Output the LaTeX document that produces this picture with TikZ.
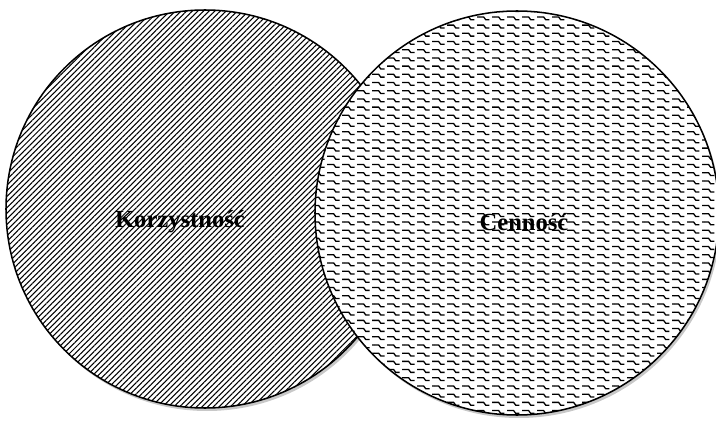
\documentclass[tikz,border=0pt]{standalone}
\usepackage{fontspec}
\setmainfont{Liberation Serif}
\usepackage{tikz}
\usetikzlibrary{patterns,patterns.meta,calc}
\definecolor{ombre}{RGB}{200,200,200}

% motif de vagues pour Cenność
\pgfdeclarepatternformonly{vagues}{\pgfqpoint{-1pt}{-1pt}}{\pgfqpoint{14pt}{8pt}}{\pgfqpoint{12.8pt}{7pt}}{%
  \pgfsetlinewidth{1.1pt}
  \pgfpathmoveto{\pgfqpoint{0pt}{3.6pt}}
  \pgfpathlineto{\pgfqpoint{3.2pt}{3.6pt}}
  \pgfpathlineto{\pgfqpoint{5pt}{1.2pt}}
  \pgfpathlineto{\pgfqpoint{8.2pt}{1.2pt}}
  \pgfpathmoveto{\pgfqpoint{10.4pt}{3.6pt}}
  \pgfpathlineto{\pgfqpoint{12.8pt}{3.6pt}}
  \pgfusepath{stroke}}

\tikzset{
  hachures/.style={pattern={Lines[angle=45,distance=3.4pt,line width=0.9pt]}},
  etiquette/.style={font=\fontsize{21}{24}\selectfont\bfseries}
}

\begin{document}
\begin{tikzpicture}[x=0.03cm,y=-0.03cm]
  \clip (0,0) rectangle (716,423);

  % Korzystność
  \fill[ombre] (207,212) circle (199);
  \fill[white] (205,209) circle (199);
  \fill[hachures] (205,209) circle (199);
  \draw[line width=1.3pt] (205,209) circle (199);
  \node[etiquette] (korzystnosc) at (180,222) {Korzystność};

  % Cenność
  \fill[ombre] (519,216) circle (202);
  \fill[white] (517,213) circle (202);
  \fill[pattern=vagues] (517,213) circle (202);
  \draw[line width=1.3pt] (517,213) circle (202);
  \node[etiquette] (cennosc) at (524,222) {Cenność};
\end{tikzpicture}
\end{document}
